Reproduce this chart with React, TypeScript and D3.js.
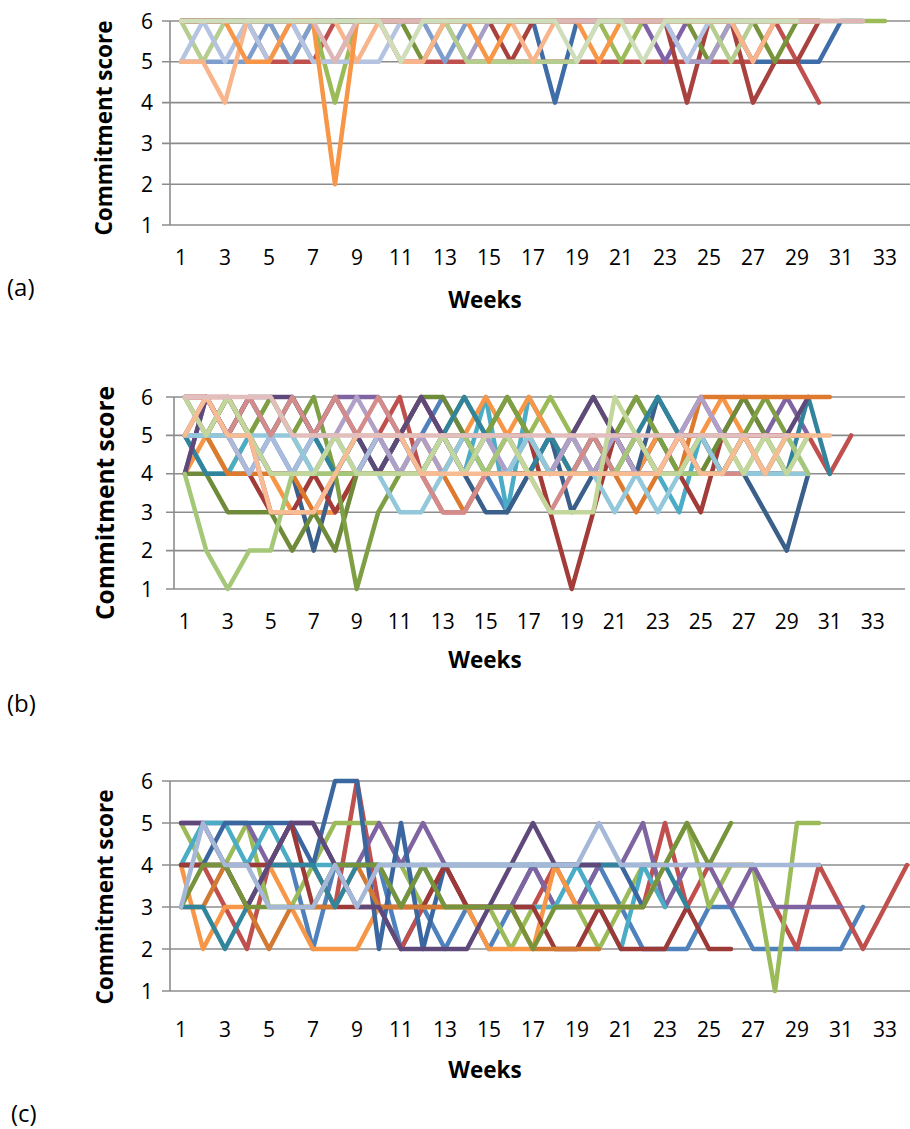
import React from "react";
import * as d3 from "d3";

// category axis: weeks 1..34, labels on every other week
const weeks = d3.range(1, 35);
const weekTicks = d3.range(1, 34, 2);
const scoreTicks = [1, 2, 3, 4, 5, 6];

// ---- panel (a) ----
const aDarkBlue = [6,6,6,6,6,6,6,6,6,6,6,6,6,6,6,6,6,4,6,6,6,6,6,6,6,6,5,5,5,5,6,6];
const aRed = [6,6,6,6,5,5,5,6,6,6,5,5,5,5,5,5,5,5,5,5,5,5,5,5,5,5,5,6,5,4];
const aGreen = [6,6,6,6,6,5,6,4,6,6,6,6,6,6,6,6,6,6,6,6,5,6,6,6,6,6,6,6,6,6,6,6,6];
const aPurple = [6,6,6,6,6,6,6,6,6,6,6,6,6,6,6,6,6,6,6,6,6,6,5,6,6,6,6,6,6,6];
const aOrange = [6,6,6,5,5,6,6,2,6,6,6,6,6,6,5,6,6,6,6,5,6,6,6,6,6,6,6,6,6,6];
const aDarkRed = [6,6,6,6,6,6,6,6,6,6,6,6,6,6,6,5,6,6,6,6,6,6,6,4,6,6,4,5,5,6];
const aDarkGreen = [6,6,6,6,6,6,6,6,6,6,6,5,6,6,6,6,6,6,6,6,6,6,6,6,5,6,6,5,6,6];
const aMidBlue = [5,5,5,5,6,5,6,6,6,6,6,6,5,6,6,6,6,6,6,6,6,6,6,6,6,6,6,6,6,6];
const aPeach = [5,5,4,6,6,6,6,6,5,6,5,5,6,6,6,6,5,6,6,6,6,6,6,6,6,6,5,6,6,6];
const aLavender = [6,6,6,6,6,6,5,5,6,6,6,6,6,5,6,6,6,6,6,6,6,6,6,5,5,6,6,6,6,6];
const aLightGreen = [6,5,6,6,6,6,6,6,6,6,6,6,6,5,5,5,5,5,5,6,6,6,6,6,6,5,6,6,6,6];
const aLightBlue = [5,6,5,6,5,6,5,5,5,5,6,6,6,6,6,6,6,6,6,6,6,6,6,5,6,6,6,6,6,6];
const aPink = [6,6,6,6,6,6,6,5,6,6,6,6,6,6,6,6,6,6,6,6,6,6,6,6,6,6,6,6,6,6,6,6];
const aPaleGreen = [6,6,6,6,6,6,6,6,6,6,5,6,6,6,6,6,6,6,5,6,6,5,6,6,6,6,6,6,6];

// ---- panel (b) ----
const bBlue = [5,6,5,6,5,4,5,4,5,4,4,5,6,5,4,3,4,5,4,5,4,4,5,4,4,4,5,4,4];
const bRed = [6,6,6,5,3,3,3,3,4,5,6,4,3,3,4,5,4,4,5,4,4,5,4,4,5,5,5,5,5,5,4,5];
const bGreen = [5,5,4,5,6,5,4,4,5,4,4,5,4,5,4,4,5,6,5,4,5,4,5,5,4,5,4,5,4,5];
const bPurple = [4,6,5,6,5,6,5,6,6,6,5,6,5,4,5,4,4,4,4,4,4,4,5,5,6,5,6,5,6,5];
const bAqua = [5,4,4,5,4,4,5,5,4,4,5,4,5,4,6,3,6,5,4,4,5,4,4,3,5,4,4,4,4];
const bOrange = [4,5,6,5,4,3,3,3,4,5,5,5,4,5,6,5,6,5,4,5,4,4,5,5,5,6,5,4,4,4];
const bDarkBlue = [5,5,6,5,4,4,2,4,4,5,4,4,5,4,3,3,4,5,3,4,5,4,6,5,4,4,4,3,2,4];
const bDarkRed = [6,6,5,4,3,3,4,3,4,4,5,6,5,4,5,5,5,3,1,3,5,4,4,4,3,5,5,5,5];
const bOlive = [4,4,3,3,3,2,3,2,4,4,5,6,6,5,5,6,5,4,5,6,5,6,5,4,4,5,6,5,4];
const bOlive2 = [6,5,6,5,6,5,6,4,1,3,4,4,5,6,5,6,5,4,5,4,5,6,5,4,5,4,5,6,5];
const bTeal = [5,4,4,4,5,6,5,4,5,4,5,4,5,6,5,4,4,5,4,5,4,5,6,5,4,4,4,4,4,6,4];
const bDarkPurple = [4,6,5,6,6,6,5,6,5,4,5,6,5,5,4,4,4,4,5,6,5,5,4,5,5,4,5,4,5,6];
const bDarkOrange = [5,5,4,4,4,4,3,4,4,4,4,4,4,3,4,4,4,4,4,4,4,3,4,4,6,6,6,6,6,6,6];
const bLightBlue = [5,5,5,4,5,4,5,5,4,5,4,4,5,4,5,4,5,4,5,4,4,4,4,4,4,4,4,4,5,4];
const bLavender = [6,5,5,5,4,4,4,5,6,5,4,5,4,5,5,4,5,4,5,4,5,4,4,5,6,5,5,4,4];
const bLightAqua = [5,5,5,5,5,5,4,5,4,4,3,3,4,5,4,4,5,4,4,4,3,4,3,4,5,4,4,4,4,4];
const bRose = [5,6,5,6,5,6,5,6,5,6,5,4,3,3,4,5,4,3,4,5,4,5,4,5,4,4,4];
const bLightGreen = [4,2,1,2,2,4,4,4,4,4,4,4,5,5,4,5,4,4,4,4,4,5,4,4,4,4,5,4,5,4];
const bPaleGreen = [6,5,6,5,4,4,4,5,4,4,4,4,5,4,5,5,4,3,3,3,6,5,4,4,5,5,4,5,4,5];
const bPeach = [5,6,5,5,3,3,3,4,5,5,5,4,4,4,4,4,4,4,4,4,4,4,4,5,4,4,5,4,5,5,5];
const bPink = [6,6,6,6,6,5,5,5,5,5,5,5,5,5,5,5,5,5,5,5,5,5,5,5,5,5,5,5,5];

// ---- panel (c) ----
const cBlue = [4,4,4,4,4,4,2,4,4,4,2,3,2,3,2,3,4,3,3,4,3,2,2,2,3,3,2,2,2,2,2,3];
const cRed = [4,4,3,2,4,4,4,3,6,3,2,3,4,3,3,3,3,4,3,3,3,3,5,3,4,4,4,3,2,4,3,2,3,4];
const cGreen = [5,4,4,5,3,3,4,5,5,5,4,3,3,3,3,2,3,3,3,2,3,4,4,5,3,4,4,1,5,5];
const cPurple = [5,5,5,5,4,5,5,4,4,5,4,5,4,3,3,3,4,3,3,4,4,5,3,4,4,3,4,3,3,3,3];
const cAqua = [4,5,5,4,5,4,4,4,4,4,3,4,3,3,3,3,3,3,4,3,2,4,3];
const cOrange = [4,2,3,3,4,3,2,2,2,3,3,3,3,3,2,2,2,4,3,3,3,3,4];
const cDarkBlue = [4,4,5,5,5,5,4,6,6,2,5,2,4,4,4,4,4,4,4,4,4,3];
const cDarkRed = [4,4,4,4,4,5,3,3,3,3,3,3,4,3,3,3,3,2,2,3,2,2,2,3,2,2];
const cDarkOrange = [3,3,4,3,2,3,3,3,4,3,3,3,3,3,3,3,2,2,2,2];
const cTeal = [3,3,2,3,4,4,4,3,4,4,4,4,4,4,4,4,4,4,4,4,4,4,4,3];
const cDarkPurple = [5,5,4,3,4,5,5,4,3,3,2,2,2,2,3,4,5,4,4,4];
const cDarkGreen = [3,4,4,3,3,3,3,4,4,4,3,4,3,3,3,3,2,3,3,3,3,3,4,5,4,5];
const cSteel = [3,5,4,4,3,3,3,4,3,4,4,4,4,4,4,4,4,4,4,5,4,4,4,4,4,4,4,4,4,4];

// drawing order = series order (later ones sit on top)
const seriesA = [
  { values: aDarkBlue, color: "#3F6DA8" },
  { values: aRed, color: "#C0504D" },
  { values: aGreen, color: "#9BBB59" },
  { values: aPurple, color: "#7F62A8" },
  { values: aDarkRed, color: "#A8423F" },
  { values: aDarkGreen, color: "#77933C" },
  { values: aMidBlue, color: "#7F9ECE" },
  { values: aLavender, color: "#A79EC6" },
  { values: aLightGreen, color: "#B5CD8E" },
  { values: aLightBlue, color: "#B4C4E0" },
  { values: aPeach, color: "#F8B48A" },
  { values: aOrange, color: "#F79646" },
  { values: aPink, color: "#DDB6B5" },
  { values: aPaleGreen, color: "#CEDDBA" },
];

const seriesB = [
  { values: bBlue, color: "#4F81BD" },
  { values: bRed, color: "#C0504D" },
  { values: bGreen, color: "#9BBB59" },
  { values: bPurple, color: "#8064A2" },
  { values: bAqua, color: "#4BACC6" },
  { values: bOrange, color: "#F79646" },
  { values: bDarkBlue, color: "#3A5F8B" },
  { values: bDarkRed, color: "#A33B38" },
  { values: bOlive, color: "#6F8B3A" },
  { values: bOlive2, color: "#7F9F45" },
  { values: bTeal, color: "#31849B" },
  { values: bDarkPurple, color: "#5F497A" },
  { values: bDarkOrange, color: "#DD7A2E" },
  { values: bLightBlue, color: "#A9BCDD" },
  { values: bLavender, color: "#B0A0C8" },
  { values: bLightAqua, color: "#93C8DB" },
  { values: bRose, color: "#D48C8A" },
  { values: bLightGreen, color: "#A5C878" },
  { values: bPaleGreen, color: "#C3D69B" },
  { values: bPeach, color: "#F8BC94" },
  { values: bPink, color: "#E2BEBD" },
];

const seriesC = [
  { values: cBlue, color: "#4F81BD" },
  { values: cRed, color: "#C0504D" },
  { values: cGreen, color: "#9BBB59" },
  { values: cPurple, color: "#8064A2" },
  { values: cAqua, color: "#4BACC6" },
  { values: cOrange, color: "#F79646" },
  { values: cDarkBlue, color: "#3B67A0" },
  { values: cDarkRed, color: "#9B3A37" },
  { values: cDarkOrange, color: "#D27A33" },
  { values: cTeal, color: "#31859C" },
  { values: cDarkPurple, color: "#5F497A" },
  { values: cDarkGreen, color: "#77933C" },
  { values: cSteel, color: "#A5B8D8" },
];

const panels = [
  { tag: "(a)", series: seriesA, x0: 170, band: 22, yTop: 21, yBot: 225, tickY: 265, weeksY: 308, tagX: 7, tagY: 296, titleX: 112, titleY: 128, titleSize: 22.5 },
  { tag: "(b)", series: seriesB, x0: 174, band: 21.5, yTop: 397, yBot: 589, tickY: 629, weeksY: 668, tagX: 7, tagY: 712, titleX: 114, titleY: 503, titleSize: 24.5 },
  { tag: "(c)", series: seriesC, x0: 170, band: 22, yTop: 781, yBot: 991, tickY: 1037, weeksY: 1078, tagX: 11, tagY: 1122, titleX: 113, titleY: 897, titleSize: 22.5 },
];

const font = "'Open Sans', sans-serif";
const grid = "#8C8C8C";

function Panel({ p }) {
  const x = d3.scaleLinear().domain([0.5, weeks.length + 0.5]).range([p.x0, p.x0 + weeks.length * p.band]);
  const y = d3.scaleLinear().domain([1, 6]).range([p.yBot, p.yTop]);
  const line = d3
    .line<number | null>()
    .defined((d) => d != null)
    .x((_, i) => x(weeks[i]))
    .y((d) => y(d as number));

  return (
    <g>
      {scoreTicks.map((s) => (
        <g key={s}>
          <line x1={p.x0 - 8} x2={x.range()[1]} y1={y(s)} y2={y(s)} stroke={grid} strokeWidth={1.6} />
          <text x={153} y={y(s)} dy="0.36em" textAnchor="end" fontSize={21} fontFamily={font} fill="#000">
            {s}
          </text>
        </g>
      ))}
      <line x1={p.x0} x2={p.x0} y1={p.yTop} y2={p.yBot} stroke={grid} strokeWidth={1.6} />
      {p.series.map((s, i) => (
        <path
          key={i}
          d={line(s.values) || ""}
          fill="none"
          stroke={s.color}
          strokeWidth={4.5}
          strokeLinejoin="round"
          strokeLinecap="round"
        />
      ))}
      {weekTicks.map((w) => (
        <text key={w} x={x(w)} y={p.tickY} textAnchor="middle" fontSize={21} fontFamily={font} fill="#000">
          {w}
        </text>
      ))}
      <text x={485} y={p.weeksY} textAnchor="middle" fontSize={22.5} fontWeight="bold" fontFamily={font} fill="#000">
        Weeks
      </text>
      <text
        transform={`translate(${p.titleX},${p.titleY}) rotate(-90)`}
        textAnchor="middle"
        fontSize={p.titleSize}
        fontWeight="bold"
        fontFamily={font}
        fill="#000"
      >
        Commitment score
      </text>
      <text x={p.tagX} y={p.tagY} fontSize={24} fontFamily={font} fill="#000">
        {p.tag}
      </text>
    </g>
  );
}

export default function App() {
  return (
    <div style={{ position: "absolute", left: 0, top: 0 }}>
      <svg width={910} height={1129} style={{ display: "block", background: "#fff" }}>
        {panels.map((p) => (
          <Panel key={p.tag} p={p} />
        ))}
      </svg>
    </div>
  );
}
